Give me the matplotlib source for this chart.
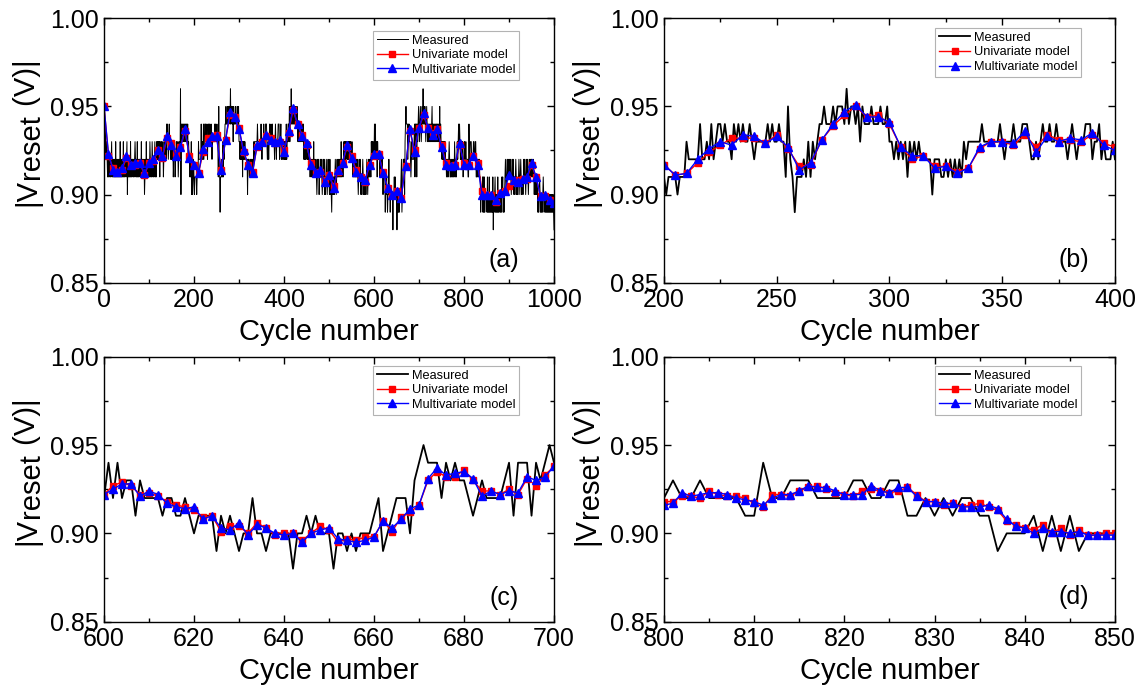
import numpy as np
import matplotlib
matplotlib.use("Agg")
import matplotlib.pyplot as plt
from matplotlib.ticker import MultipleLocator

plt.rcParams['font.family'] = ['Liberation Sans', 'DejaVu Sans']

# measured |Vreset| for cycles 0..1000, one digit per cycle (hundredths digit:
# '0'..'6' -> 0.90..0.96, '8' -> 0.88, '9' -> 0.89)
measured_digits = (
    # 0-99
    "5324232212" "1221212312" "1212113121" "2121213121" "1213121221"
    "2302121213" "1212212123" "2121312122" "1213121212" "0121312212"
    # 100-199
    "2132121321" "2123121323" "2323132232" "2312232324" "3432343323"
    "2323122312" "2322312322" "6043434343" "4343434232" "2121302012"
    # 200-299
    "1011110111" "3222224223" "2423443433" "2434343343" "2333334343"
    "3433152191" "1121313234" "4544454555" "4645545354" "4454445445"
    # 300-399
    "3323232313" "2323222220" "2221121212" "1213233333" "3433333334"
    "3233343334" "4432232343" "3433433332" "3432333444" "2334232223"
    # 400-499
    "2323242334" "4353546454" "5454545445" "4343434344" "3434232323"
    "3232323212" "2121213121" "1210121201" "1212101212" "0101210121"
    # 500-599
    "1020109101" "0101210121" "1212121312" "2123232323" "3232323232"
    "2321212121" "1212101212" "1010121010" "0101210121" "2121323232"
    # 600-699
    "2424233132" "2221221121" "0111191010" "9002009000" "0080010100"
    "0800909000" "1290122203" "4544424343" "3212322223" "4144414345"
    # 700-799
    "4345434546" "4545434543" "4343434345" "3434343434" "4343435343"
    "3232323232" "2121212321" "1212121213" "2121232343" "4323232312"
    # 800-899
    "2322322221" "1422333222" "2332233112" "1212211900" "0191919000"
    "0919091909" "0909180901" "9090919090" "0909101909" "0121012121"
    # 900-999
    "1212101212" "1010121010" "0121012101" "1012121012" "1210121212"
    "2121210101" "0101909010" "9090901090" "0909090909" "0909090909"
    # 1000
    "8"
)

# panel (a): model predictions every 10 cycles
cycles_a = np.arange(0, 1001, 10)
uni_a = [0.950, 0.922, 0.915, 0.913, 0.914, 0.921, 0.917, 0.917, 0.918, 0.911,
         0.918, 0.919, 0.925, 0.921, 0.932, 0.929, 0.923, 0.927, 0.936, 0.922,
         0.917, 0.912, 0.924, 0.932, 0.932, 0.934, 0.914, 0.931, 0.945, 0.944,
         0.938, 0.924, 0.917, 0.913, 0.927, 0.930, 0.933, 0.932, 0.929, 0.930,
         0.925, 0.935, 0.948, 0.940, 0.934, 0.928, 0.918, 0.912, 0.913, 0.908,
         0.911, 0.905, 0.913, 0.918, 0.927, 0.922, 0.914, 0.910, 0.907, 0.917,
         0.922, 0.923, 0.913, 0.904, 0.900, 0.902, 0.898, 0.916, 0.936, 0.925,
         0.938, 0.945, 0.938, 0.935, 0.937, 0.928, 0.918, 0.916, 0.917, 0.928,
         0.918, 0.917, 0.922, 0.918, 0.902, 0.900, 0.900, 0.896, 0.901, 0.902,
         0.905, 0.907, 0.908, 0.909, 0.909, 0.917, 0.910, 0.899, 0.899, 0.897,
         0.895]
multi_a = [0.950, 0.923, 0.914, 0.913, 0.915, 0.922, 0.917, 0.918, 0.918, 0.912,
           0.918, 0.920, 0.925, 0.922, 0.933, 0.928, 0.922, 0.927, 0.937, 0.921,
           0.917, 0.912, 0.926, 0.930, 0.933, 0.933, 0.914, 0.931, 0.947, 0.944,
           0.937, 0.925, 0.917, 0.912, 0.928, 0.930, 0.934, 0.931, 0.930, 0.931,
           0.924, 0.936, 0.949, 0.940, 0.933, 0.929, 0.917, 0.912, 0.914, 0.907,
           0.911, 0.904, 0.914, 0.918, 0.928, 0.921, 0.913, 0.910, 0.908, 0.917,
           0.923, 0.923, 0.912, 0.904, 0.900, 0.902, 0.898, 0.916, 0.937, 0.924,
           0.938, 0.946, 0.938, 0.934, 0.937, 0.927, 0.917, 0.916, 0.917, 0.929,
           0.917, 0.917, 0.922, 0.917, 0.900, 0.900, 0.900, 0.897, 0.901, 0.902,
           0.911, 0.908, 0.907, 0.909, 0.910, 0.918, 0.910, 0.899, 0.900, 0.897,
           0.895]

# panel (b): model predictions every 5 cycles, 200-400
cycles_b = np.arange(200, 401, 5)
uni_b = [0.917, 0.911, 0.912, 0.918, 0.924, 0.928, 0.932, 0.932, 0.932, 0.929,
         0.934, 0.926, 0.916, 0.917, 0.931, 0.939, 0.945, 0.950, 0.944, 0.945,
         0.940, 0.927, 0.920, 0.922, 0.916, 0.916, 0.913, 0.915, 0.926, 0.930,
         0.930, 0.928, 0.934, 0.927, 0.934, 0.931, 0.931, 0.930, 0.934, 0.929,
         0.927]
multi_b = [0.917, 0.911, 0.912, 0.920, 0.926, 0.930, 0.928, 0.934, 0.933, 0.929,
           0.933, 0.927, 0.914, 0.918, 0.931, 0.940, 0.947, 0.951, 0.944, 0.944,
           0.941, 0.927, 0.922, 0.922, 0.915, 0.916, 0.912, 0.915, 0.927, 0.930,
           0.930, 0.929, 0.936, 0.924, 0.933, 0.930, 0.932, 0.931, 0.935, 0.928,
           0.925]

# panel (c): model predictions every 2 cycles, 600-700
cycles_c = np.arange(600, 701, 2)
uni_c = [0.922, 0.927, 0.929, 0.927, 0.922, 0.923, 0.921, 0.918, 0.916, 0.915,
         0.913, 0.909, 0.910, 0.901, 0.904, 0.904, 0.900, 0.906, 0.903, 0.899,
         0.900, 0.900, 0.896, 0.900, 0.904, 0.902, 0.895, 0.897, 0.896, 0.898,
         0.898, 0.907, 0.901, 0.909, 0.912, 0.916, 0.930, 0.935, 0.932, 0.932,
         0.936, 0.930, 0.924, 0.924, 0.922, 0.925, 0.922, 0.931, 0.927, 0.933,
         0.938]
multi_c = [0.922, 0.925, 0.928, 0.928, 0.921, 0.924, 0.922, 0.917, 0.915, 0.914,
           0.915, 0.908, 0.910, 0.903, 0.902, 0.906, 0.899, 0.905, 0.903, 0.900,
           0.899, 0.900, 0.895, 0.900, 0.902, 0.903, 0.897, 0.896, 0.895, 0.896,
           0.898, 0.907, 0.903, 0.908, 0.914, 0.916, 0.931, 0.937, 0.933, 0.934,
           0.935, 0.931, 0.921, 0.924, 0.922, 0.924, 0.923, 0.932, 0.930, 0.932,
           0.938]

# panel (d): model predictions every cycle, 800-850
cycles_d = np.arange(800, 851, 1)
uni_d = [0.918, 0.918, 0.921, 0.921, 0.920, 0.924, 0.922, 0.921, 0.921, 0.920,
         0.917, 0.915, 0.922, 0.922, 0.921, 0.924, 0.926, 0.927, 0.925, 0.923,
         0.922, 0.921, 0.924, 0.925, 0.924, 0.923, 0.924, 0.926, 0.922, 0.918,
         0.918, 0.916, 0.917, 0.915, 0.916, 0.917, 0.915, 0.913, 0.907, 0.905,
         0.903, 0.902, 0.905, 0.900, 0.903, 0.899, 0.902, 0.899, 0.899, 0.900,
         0.900]
multi_d = [0.916, 0.917, 0.923, 0.921, 0.922, 0.923, 0.923, 0.922, 0.920, 0.919,
           0.918, 0.916, 0.920, 0.922, 0.922, 0.924, 0.927, 0.926, 0.926, 0.924,
           0.922, 0.922, 0.922, 0.927, 0.924, 0.923, 0.926, 0.926, 0.921, 0.918,
           0.918, 0.917, 0.917, 0.915, 0.915, 0.915, 0.916, 0.914, 0.908, 0.904,
           0.903, 0.900, 0.903, 0.901, 0.901, 0.900, 0.901, 0.899, 0.899, 0.899,
           0.899]

def decode(ch):
    d = int(ch)
    return 0.80 + d / 100 if d >= 8 else 0.90 + d / 100

measured = np.array([decode(c) for c in measured_digits])
cycles = np.arange(len(measured))

panels = [
    # label, xlim, xmajor, xminor, model x, uni, multi, measured lw, axes rect, legend anchor, label pos
    ('(a)', (0, 1000), 200, 100, cycles_a, uni_a, multi_a, 0.7,
     [0.0909, 0.5903, 0.3934, 0.3832], (0.922, 0.952), (0.889, 0.086)),
    ('(b)', (200, 400), 50, 25, cycles_b, uni_b, multi_b, 1.3,
     [0.5804, 0.5903, 0.3942, 0.3832], (0.925, 0.963), (0.909, 0.086)),
    ('(c)', (600, 700), 20, 10, cycles_c, uni_c, multi_c, 1.3,
     [0.0909, 0.0990, 0.3934, 0.3840], (0.922, 0.965), (0.889, 0.089)),
    ('(d)', (800, 850), 10, 5, cycles_d, uni_d, multi_d, 1.3,
     [0.5804, 0.0990, 0.3942, 0.3840], (0.925, 0.965), (0.909, 0.093)),
]

fig = plt.figure(figsize=(11.44, 6.90), dpi=100)
fig.set_facecolor('white')

for (lab, xlim, xmaj, xmin, mx, uni, multi, lw, rect, leg_anchor, lab_pos) in panels:
    ax = fig.add_axes(rect)
    sel = (cycles >= xlim[0]) & (cycles <= xlim[1])
    ax.plot(cycles[sel], measured[sel], color='black', lw=lw, label='Measured')
    ax.plot(mx, uni, color='red', lw=1.0, marker='s', ms=4.5, mec='red',
            mfc='red', label='Univariate model')
    ax.plot(mx, multi, color='blue', lw=1.0, marker='^', ms=5.5, mec='blue',
            mfc='blue', label='Multivariate model')

    ax.set_xlim(xlim)
    ax.set_ylim(0.85, 1.00)
    ax.xaxis.set_major_locator(MultipleLocator(xmaj))
    ax.xaxis.set_minor_locator(MultipleLocator(xmin))
    ax.yaxis.set_major_locator(MultipleLocator(0.05))
    ax.yaxis.set_minor_locator(MultipleLocator(0.025))
    ax.yaxis.set_major_formatter(plt.FormatStrFormatter('%.2f'))
    ax.tick_params(which='both', direction='in', top=True, right=True,
                   labelsize=18, width=1.0, pad=4)
    ax.tick_params(which='major', length=5)
    ax.tick_params(which='minor', length=3)
    for sp in ax.spines.values():
        sp.set_linewidth(1.0)

    ax.set_xlabel('Cycle number', fontsize=21, labelpad=4)

    # y label |Vreset (V)| with a lowered, full-size "reset"
    t1 = ax.annotate('|V', xy=(-0.171, 0.29), xycoords='axes fraction',
                     rotation=90, fontsize=21, ha='center', va='bottom')
    t2 = ax.annotate('reset', xy=(0, 1), xycoords=t1, xytext=(2.5, 0),
                     textcoords='offset points', rotation=90, fontsize=21,
                     ha='left', va='bottom')
    ax.annotate(' (V)|', xy=(0, 1), xycoords=t2, xytext=(-2.5, 0),
                textcoords='offset points', rotation=90, fontsize=21,
                ha='left', va='bottom')

    leg = ax.legend(loc='upper right', bbox_to_anchor=leg_anchor, fontsize=9.2,
                    frameon=True, fancybox=False, edgecolor='#a0a0a0',
                    borderaxespad=0, handlelength=2.4, handletextpad=0.3,
                    borderpad=0.3, labelspacing=0.2)
    leg.get_frame().set_linewidth(0.8)

    ax.text(lab_pos[0], lab_pos[1], lab, transform=ax.transAxes,
            fontsize=18, ha='center', va='center')

fig.savefig('out.png', dpi=100, facecolor='white')
